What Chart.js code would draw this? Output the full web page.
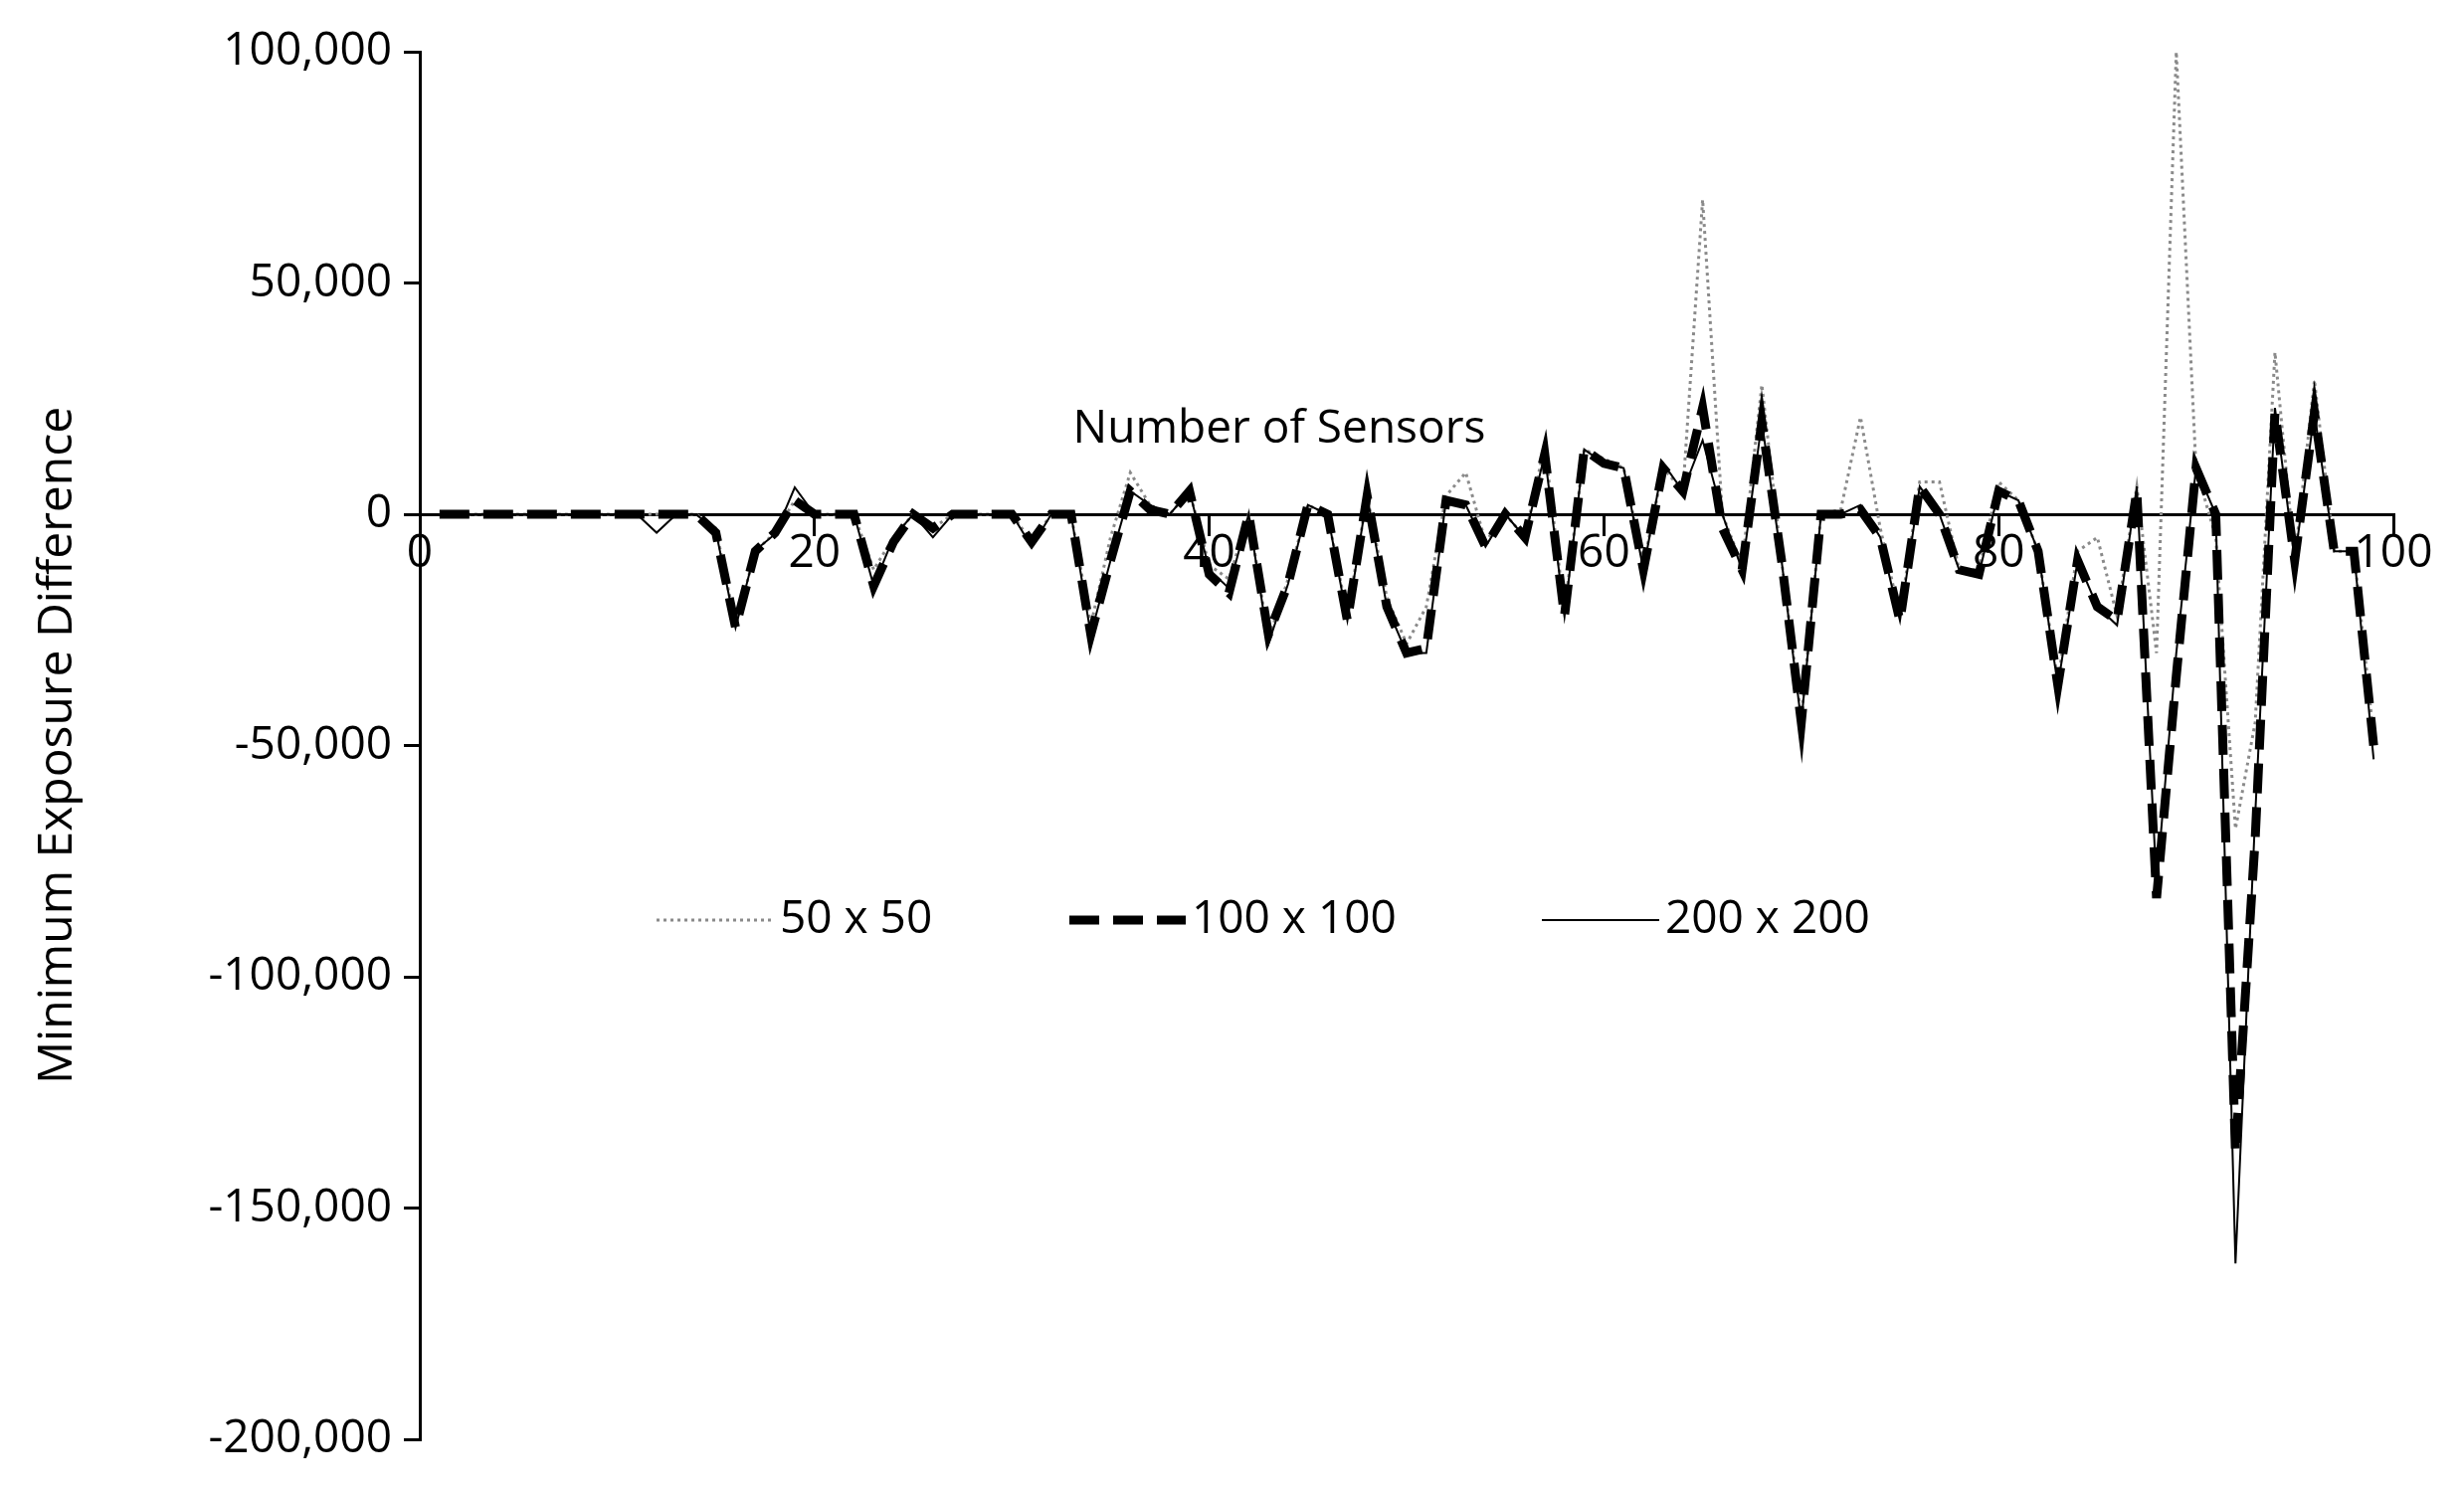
<!DOCTYPE html>
<html><head><meta charset="utf-8">
<script src="https://cdn.jsdelivr.net/npm/chart.js@4"></script>
<style>html,body{margin:0;padding:0;background:#fff}</style>
</head><body>
<canvas id="c" width="2477" height="1502"></canvas>
<script>
const xValues = Array.from({length: 99}, (_, i) => i + 1);
const s200 = [0,0,0,0,0,0,0,0,0,0, 0,-4000,0,0,-3600,-24500,-7800,-4300,5800,0,
 0,0,-15500,-5000,0,-5000,0,0,0,0, -7000,0,0,-26000,-10000,5000,2000,0,5000,-12000,
 -16000,0,-28000,-15000,2000,0,-23000,4000,-20000,-30000, -30000,3000,2000,-7000,0,-5000,13000,-22000,14000,11000,
 10000,-12000,11000,5000,16000,0,-12000,20000,-10000,-45000, 0,0,2000,-5000,-23000,6000,0,-12000,-13000,5000,
 3000,-8000,-37000,-10000,-20000,-24000,6000,-80000,-30000,10000, 0,-162000,-65000,23000,-10000,22000,-8000,-8000,-53000];
const s100 = [0,0,0,0,0,0,0,0,0,0, 0,0,0,0,-4000,-24500,-8000,-4000,3000,0,
 0,0,-15500,-6000,0,-3000,0,0,0,0, -6000,0,0,-26000,-10000,5000,1000,0,5000,-13000,
 -17000,0,-26000,-15000,2000,0,-23000,4000,-20000,-30000, -29000,3000,2000,-7000,0,-5000,13000,-22000,14000,11000,
 10000,-12000,10000,5000,23000,-3000,-12000,20000,-10000,-45000, 0,0,1000,-5000,-23000,6000,0,-12000,-13000,5000,
 3000,-8000,-37000,-10000,-20000,-23000,5000,-83000,-35000,10000, 0,-138000,-70000,22000,-10000,22000,-8000,-8000,-50000];
const s50 = [0,0,0,0,0,0,0,0,0,0, 0,0,0,0,-3000,-24000,-8000,-4000,3000,0,
 0,0,-12000,-5000,0,-3000,0,0,0,0, -6000,0,0,-24000,-5000,9000,2000,0,5000,-11000,
 -14000,0,-27000,-14000,2000,0,-22000,4000,-18000,-28000, -20000,4000,9000,-6000,0,-5000,15000,-21000,14000,12000,
 10000,-11000,10000,5000,68000,0,-11000,28000,-10000,-44000, 0,1000,21000,-3000,-22000,7000,7000,-12000,-12000,7000,
 3000,-8000,-36000,-8000,-5000,-22000,6000,-30000,100000,10000, -5000,-68000,-45000,35000,-10000,29000,-8000,-8000,-48000];
const seriesLabels = ['50 x 50', '100 x 100', '200 x 200'];
const yTicks = [100000, 50000, 0, -50000, -100000, -150000, -200000];
const xTicks = [0, 20, 40, 60, 80, 100];
const FONT = '"Open Sans","Noto Sans",sans-serif';

const styles = [
  {borderColor:'#8a8a8a', borderWidth:3, borderDash:[3,4], order: 3},
  {borderColor:'#000', borderWidth:9, borderDash:[30,14], order: 2},
  {borderColor:'#000', borderWidth:2, borderDash:[], order: 1}
];
const dataSets = [s50, s100, s200].map((arr, i) => Object.assign({
  label: seriesLabels[i],
  data: xValues.map((x, j) => ({x, y: arr[j]})),
  pointRadius: 0, tension: 0, fill: false
}, styles[i]));

const overlay = {
  id: 'overlay',
  afterDatasetsDraw(chart) {
    const ctx = chart.ctx;
    ctx.save();
    ctx.fillStyle = '#000';
    ctx.font = '46px ' + FONT;
    ctx.textAlign = 'center'; ctx.textBaseline = 'alphabetic';
    ctx.fillText('Number of Sensors', 1286, 445);
    const ly = 925;
    const items = [[660, 778], [1075, 1192], [1550, 1668]];
    items.forEach((it, i) => {
      const st = styles[i];
      ctx.beginPath();
      ctx.strokeStyle = st.borderColor; ctx.lineWidth = st.borderWidth;
      ctx.setLineDash(st.borderDash);
      ctx.moveTo(it[0], ly); ctx.lineTo(it[1], ly); ctx.stroke();
      ctx.setLineDash([]);
      ctx.textAlign = 'left'; ctx.textBaseline = 'middle';
      ctx.fillText(seriesLabels[i], it[1] + 6, ly);
    });
    ctx.restore();
  }
};

new Chart(document.getElementById('c'), {
  type: 'line',
  data: {datasets: dataSets},
  options: {
    responsive: false, animation: false,
    layout: {padding: {left: 30, right: 71, top: 52, bottom: 55}},
    plugins: {legend: {display: false}, tooltip: {enabled: false}},
    scales: {
      x: {
        type: 'linear', min: 0, max: 100, position: {y: 0},
        afterBuildTicks: s => { s.ticks = xTicks.map(v => ({value: v})); },
        grid: {display: true, drawOnChartArea: false, drawTicks: true, tickLength: 20, color: '#000', lineWidth: 3},
        border: {display: true, color: '#000', width: 3},
        ticks: {color: '#000', font: {size: 46, family: FONT}, padding: -8}
      },
      y: {
        min: -200000, max: 100000,
        afterBuildTicks: s => { s.ticks = yTicks.map(v => ({value: v})); },
        afterFit: s => { s.width = 392; },
        grid: {display: true, drawOnChartArea: false, drawTicks: true, tickLength: 16, color: '#000', lineWidth: 3},
        border: {display: true, color: '#000', width: 3},
        ticks: {color: '#000', font: {size: 46, family: FONT}, padding: 12,
          callback: v => v.toLocaleString('en-US')},
        title: {display: true, text: 'Minimum Exposure Difference', color: '#000', font: {size: 48, family: FONT}, padding: 0}
      }
    }
  },
  plugins: [overlay]
});
</script>
</body></html>
